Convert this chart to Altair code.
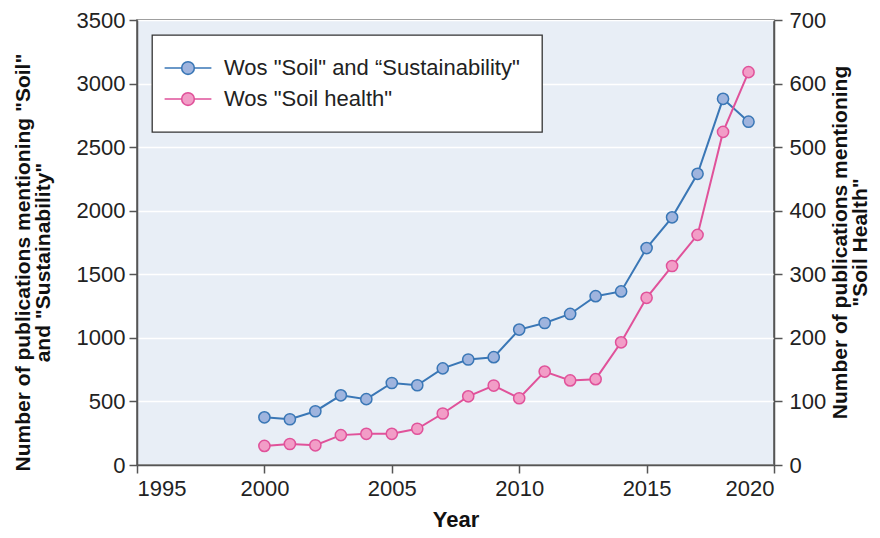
import altair as alt
import pandas as pd

years = list(range(2000, 2020))
soil_sustainability = [375, 360, 423, 548, 518, 645, 627, 760, 830, 848,
                       1065, 1117, 1188, 1328, 1365, 1706, 1948, 2290, 2880, 2700]
soil_health = [30, 33, 31, 47, 49, 49, 57, 81, 108, 125,
               105, 147, 133, 135, 193, 263, 313, 362, 524, 618]
series = ['Wos "Soil" and \u201cSustainability"', 'Wos "Soil health"']
line_colors = ['#3a77b6', '#e0529a']
fill_colors = ['#9fb4de', '#f29dc7']
left_ticks = list(range(0, 3501, 500))
right_ticks = list(range(0, 701, 100))
x_ticks = list(range(1995, 2021, 5))

df_a = pd.DataFrame({'year': years, 'series': series[0], 'value': soil_sustainability})
df_b = pd.DataFrame({'year': years, 'series': series[1], 'value': soil_health})

FONT = 'Liberation Sans'
SYMBOL = 'M-3.7,0L-1,0M1,0L3.7,0M-1,0A1,1,0,1,1,1,0A1,1,0,1,1,-1,0Z'

stroke_scale = alt.Scale(domain=series, range=line_colors)
fill_scale = alt.Scale(domain=series, range=fill_colors)


def make_legend():
    return alt.Legend(title=None, symbolType=SYMBOL, symbolSize=160,
                      symbolStrokeWidth=1.6, labelLimit=0)


x_enc = alt.X('year:Q',
              scale=alt.Scale(domain=[1995, 2020], nice=False, zero=False),
              axis=alt.Axis(values=x_ticks, format='d', title='Year', grid=False,
                            titleFontSize=22, titleY=61, titleBaseline='alphabetic',
                            labelPadding=5))

left_axis = alt.Axis(values=left_ticks, format='d', grid=True, gridColor='white',
                     gridWidth=1.6,
                     title=['Number of publications mentioning "Soil"', 'and "Sustainability"'],
                     titleFontSize=21,
                     titleAngle=270, titleX=-108, titleY=242, titleAlign='center',
                     titleBaseline='alphabetic', titleLineHeight=20)
right_axis = alt.Axis(orient='right', values=right_ticks, format='d', grid=False,
                      title=['Number of publications mentioning', '"Soil Health"'],
                      titleFontSize=21,
                      titleAngle=270, titleX=72, titleY=222, titleAlign='center',
                      titleBaseline='alphabetic', titleLineHeight=20, labelPadding=7)


def series_layer(df, axis, domain):
    base = alt.Chart(df).encode(
        x=x_enc,
        y=alt.Y('value:Q', scale=alt.Scale(domain=domain, nice=False, zero=True), axis=axis),
    )
    line = base.mark_line(strokeWidth=2).encode(
        stroke=alt.Stroke('series:N', scale=stroke_scale, legend=make_legend()))
    pts = base.mark_circle(size=125, opacity=1, strokeWidth=1.5).encode(
        stroke=alt.Stroke('series:N', scale=stroke_scale, legend=make_legend()),
        fill=alt.Fill('series:N', scale=fill_scale, legend=make_legend()))
    return alt.layer(line, pts)


layer_a = series_layer(df_a, left_axis, [0, 3500])
layer_b = series_layer(df_b, right_axis, [0, 700])

chart = alt.layer(layer_a, layer_b).resolve_scale(y='independent').properties(
    width=637, height=445,
    autosize=alt.AutoSizeParams(type='none'),
    padding={'left': 129, 'top': 12, 'right': 98, 'bottom': 65},
).configure_view(
    fill='#e8eef6', stroke='#555555', strokeWidth=1.5
).configure_axis(
    labelFont=FONT, titleFont=FONT, labelFontSize=22, titleFontSize=21,
    titleFontWeight='bold', labelColor='#222222', titleColor='#111111',
    domainColor='#555555', domainWidth=1.5, tickColor='#555555', tickWidth=1.5,
    tickSize=8, labelPadding=4
).configure_legend(
    orient='none', legendX=15, legendY=15, fillColor='white', strokeColor='#333333',
    strokeWidth=1.3, padding=22, labelFont=FONT, labelFontSize=22, labelColor='#222222',
    symbolOffset=3, labelOffset=25, rowPadding=9
)

chart.save('out.html', embed_options={'renderer': 'svg', 'actions': False})
